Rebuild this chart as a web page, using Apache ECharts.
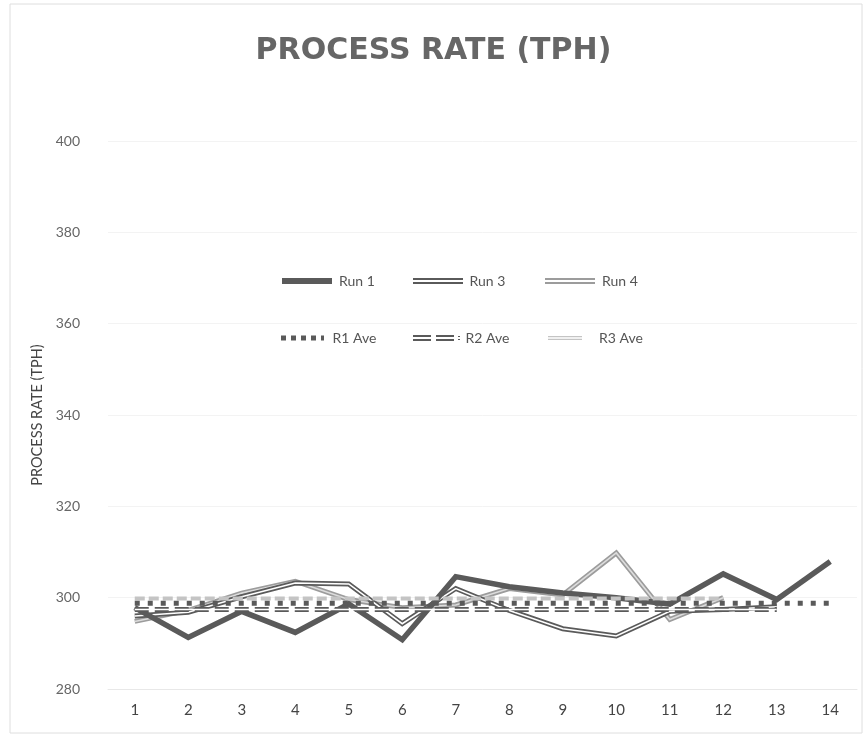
<!DOCTYPE html>
<html>
<head>
<meta charset="utf-8">
<title>Process Rate (TPH)</title>
<script src="https://cdn.jsdelivr.net/npm/echarts@6/dist/echarts.min.js"></script>
<style>
  html, body { margin: 0; padding: 0; background: #fff; }
  #chart { width: 867px; height: 737px; }
</style>
</head>
<body>
<div id="chart"></div>
<script>
// Sample points along the process, one per reading
const categories = ['1', '2', '3', '4', '5', '6', '7', '8', '9', '10', '11', '12', '13', '14'];

// Process rate readings (TPH) for each run
const run1 = [297.8, 291.3, 297, 292.4, 298.6, 290.8, 304.6, 302.4, 301, 300, 298.6, 305.2, 299.6, 307.9];
const run3 = [296, 296.8, 300.2, 303.2, 303, 294.3, 302, 297.2, 293.2, 291.6, 297, 297.4, 298];
const run4 = [294.8, 297.2, 301, 303.6, 299.6, 297.8, 298.4, 302, 300.6, 309.8, 295.2, 300];

// Run averages, held flat across each run's readings
const r1Ave = [298.8, 298.8, 298.8, 298.8, 298.8, 298.8, 298.8, 298.8, 298.8, 298.8, 298.8, 298.8, 298.8, 298.8];
const r2Ave = [297.4, 297.4, 297.4, 297.4, 297.4, 297.4, 297.4, 297.4, 297.4, 297.4, 297.4, 297.4, 297.4];
const r3Ave = [299.8, 299.8, 299.8, 299.8, 299.8, 299.8, 299.8, 299.8, 299.8, 299.8, 299.8, 299.8];

// Value axis ticks
const yTicks = [280, 300, 320, 340, 360, 380, 400];

const DARK = '#5a5a5a';
const GREY = '#9c9c9c';
const LIGHT = '#c4c4c4';
const FONT = 'Lato, "Open Sans", sans-serif';

function lineSeries(name, data, color, width, extra) {
  return Object.assign({
    name: name,
    type: 'line',
    data: data,
    symbol: 'none',
    silent: true,
    color: color,
    lineStyle: { color: color, width: width, cap: 'butt', join: 'miter' }
  }, extra || {});
}

// Double strokes: a wide stroke with a narrow core drawn over it
function core(name, data, color, width, z) {
  return lineSeries(name, data, color, width, { z: z });
}

const series = [
  lineSeries('Run 4', run4, GREY, 5, { z: 2 }),
  core('Run 4 core', run4, '#dcdcdc', 1.6, 3),
  lineSeries('Run 3', run3, DARK, 5, { z: 4 }),
  core('Run 3 core', run3, '#ffffff', 1.6, 5),
  lineSeries('Run 1', run1, DARK, 5.5, { z: 6 }),
  lineSeries('R3 Ave', r3Ave, LIGHT, 4, { z: 7, lineStyle: { color: LIGHT, width: 4, type: [10, 4] } }),
  lineSeries('R2 Ave', r2Ave, DARK, 5, { z: 8, lineStyle: { color: DARK, width: 5, type: [14, 6], cap: 'butt' } }),
  core('R2 Ave core', r2Ave, '#ffffff', 1.4, 9),
  lineSeries('R1 Ave', r1Ave, DARK, 5, { z: 10, lineStyle: { color: DARK, width: 5, type: [5, 8], cap: 'butt' } })
];

// Legend swatches
const ICON_SOLID = 'path://M0,0H50V6H0Z';
const ICON_DOUBLE = 'path://M0,0H50V2H0Z M0,4H50V6H0Z';
const ICON_DOTS = 'path://M0,0h5v5h-5z M10,0h5v5h-5z M20,0h5v5h-5z M30,0h5v5h-5z M40,0h3v5h-3z';
const ICON_DOUBLE_DASH = 'path://M0,0h18v2h-18z M0,4h18v2h-18z M23,0h18v2h-18z M23,4h18v2h-18z M45,1h2v1h-2z M45,4h2v1h-2z';

const legendItems = [
  { name: 'Run 1', icon: ICON_SOLID, left: 277, top: 269, w: 54, h: 6 },
  { name: 'Run 3', icon: ICON_DOUBLE, left: 408, top: 269, w: 53, h: 6 },
  { name: 'Run 4', icon: ICON_DOUBLE, left: 540, top: 269, w: 54, h: 6 },
  { name: 'R1 Ave', icon: ICON_DOTS, left: 276, top: 326, w: 50, h: 5 },
  { name: 'R2 Ave', icon: ICON_DOUBLE_DASH, left: 408, top: 326, w: 48, h: 6 },
  { name: 'R3 Ave', icon: ICON_DOUBLE, left: 543, top: 326, w: 34, h: 5 }
];

const legend = legendItems.map(function (it) {
  return {
    data: [{ name: it.name, icon: it.icon }],
    left: it.left,
    top: it.top,
    orient: 'horizontal',
    itemWidth: it.w,
    itemHeight: it.h,
    itemGap: 0,
    selectedMode: false,
    textStyle: { color: '#555', fontSize: 14, fontFamily: FONT, padding: [0, 0, 0, it.name === 'R3 Ave' ? 12 : 0] }
  };
});

const chart = echarts.init(document.getElementById('chart'), null, { renderer: 'canvas' });
chart.setOption({
  animation: false,
  backgroundColor: '#ffffff',
  title: {
    text: 'PROCESS RATE (TPH)',
    left: 'center',
    top: 31,
    textStyle: { color: '#666', fontSize: 30, fontWeight: 'bold', fontFamily: '"DejaVu Sans", sans-serif' }
  },
  legend: legend,
  grid: { left: 108, right: 10, top: 141, bottom: 48, containLabel: false },
  xAxis: {
    type: 'category',
    data: categories,
    boundaryGap: true,
    axisLine: { show: true, lineStyle: { color: '#e8e8e8', width: 1 } },
    axisTick: { show: false },
    axisLabel: { color: '#444', fontSize: 15, fontFamily: FONT, margin: 14 },
    splitLine: { show: false }
  },
  yAxis: {
    type: 'value',
    min: yTicks[0],
    max: yTicks[yTicks.length - 1],
    interval: 20,
    name: 'PROCESS RATE (TPH)',
    nameLocation: 'middle',
    nameGap: 52,
    nameRotate: 90,
    nameTextStyle: { color: '#444', fontSize: 14.5, fontFamily: FONT },
    axisLine: { show: false },
    axisTick: { show: false },
    axisLabel: { color: '#666', fontSize: 14, fontFamily: FONT, margin: 28 },
    splitLine: { show: true, lineStyle: { color: '#f3f3f3', width: 1 } }
  },
  graphic: [{
    type: 'rect',
    shape: { x: 10, y: 4, width: 852, height: 729 },
    style: { fill: 'none', stroke: '#dedede', lineWidth: 1 },
    silent: true,
    z: -1
  }],
  series: series
});
</script>
</body>
</html>
